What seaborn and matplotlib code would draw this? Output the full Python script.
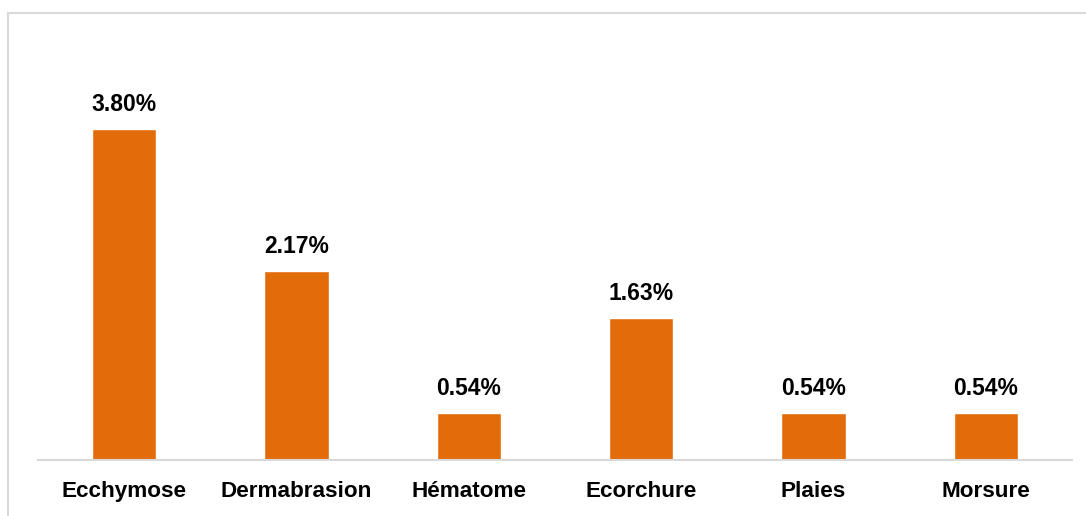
import matplotlib
matplotlib.use("Agg")
import matplotlib.pyplot as plt
import seaborn as sns
import pandas as pd
from matplotlib.patches import Rectangle

categories = ["Ecchymose", "Dermabrasion", "Hématome", "Ecorchure", "Plaies", "Morsure"]
values = [3.80, 2.17, 0.54, 1.63, 0.54, 0.54]
value_labels = ["3.80%", "2.17%", "0.54%", "1.63%", "0.54%", "0.54%"]

sns.set_theme(style="white")
plt.rcParams['font.family'] = ['Liberation Sans', 'DejaVu Sans']

df = pd.DataFrame({"cat": categories, "val": values})

W, H = 1086, 516
fig = plt.figure(figsize=(W/100, H/100), dpi=100)
ax = fig.add_axes([38/W, 1 - 460/H, (1072-38)/W, (460-40)/H])

sns.barplot(data=df, x="cat", y="val", color="#E36C0A", width=0.375, saturation=1, ax=ax, order=categories)

ax.set_xlim(-0.5, 5.5)
ax.set_ylim(0, 4.82)
ax.set_xlabel("")
ax.set_ylabel("")
ax.set_yticks([])
for s in ["top", "right", "left"]:
    ax.spines[s].set_visible(False)
ax.spines["bottom"].set_color("#D9D9D9")
ax.spines["bottom"].set_linewidth(1.5)
ax.tick_params(axis="x", length=0, pad=15)
for lbl in ax.get_xticklabels():
    lbl.set_fontweight("bold")
    lbl.set_fontsize(16.2)
    lbl.set_color("black")

for i, (v, t) in enumerate(zip(values, value_labels)):
    ax.annotate(t, xy=(i, v), xytext=(0, 24), textcoords="offset pixels",
                ha="center", va="center", fontsize=16.5, fontweight="bold", color="black")

fig.patches.append(Rectangle((8/W, -0.1), 1.2, 1 - 13/H + 0.1, transform=fig.transFigure,
                             fill=False, edgecolor="#D9D9D9", linewidth=1.5, figure=fig))

fig.savefig("out.png", dpi=100)
